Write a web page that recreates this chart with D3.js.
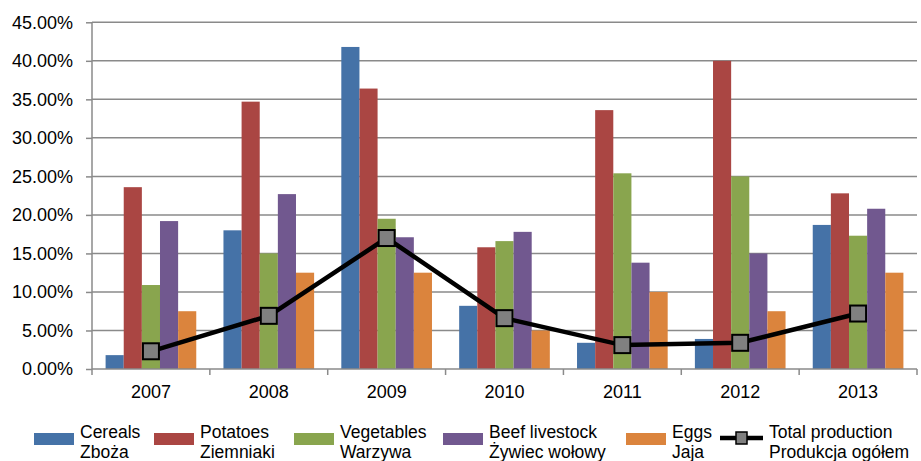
<!DOCTYPE html>
<html>
<head>
<meta charset="utf-8">
<script src="https://cdn.jsdelivr.net/npm/d3@7"></script>
<style>
  html, body { margin: 0; padding: 0; background: #fff; }
  svg { display: block; font-family: "Liberation Sans", Arial, sans-serif; }
</style>
</head>
<body>
<svg id="chart" width="921" height="461"></svg>
<script>
const years = ["2007", "2008", "2009", "2010", "2011", "2012", "2013"];
const seriesNames = [
  ["Cereals", "Zboża"],
  ["Potatoes", "Ziemniaki"],
  ["Vegetables", "Warzywa"],
  ["Beef livestock", "Żywiec wołowy"],
  ["Eggs", "Jaja"]
];
const totalName = ["Total production", "Produkcja ogółem"];
const cereals    = [1.8, 18.0, 41.8, 8.2, 3.4, 3.9, 18.7];
const potatoes   = [23.6, 34.7, 36.4, 15.8, 33.6, 40.0, 22.8];
const vegetables = [10.9, 15.0, 19.5, 16.6, 25.4, 25.0, 17.3];
const beef       = [19.2, 22.7, 17.1, 17.8, 13.8, 15.0, 20.8];
const eggs       = [7.5, 12.5, 12.5, 5.0, 10.0, 7.5, 12.5];
const total      = [2.3, 6.9, 17.0, 6.6, 3.1, 3.4, 7.2];
const yTicks     = [0, 5, 10, 15, 20, 25, 30, 35, 40, 45];

const colors = ["#4572A7", "#AA4643", "#89A54E", "#71588F", "#DB843D"];
const seriesValues = [cereals, potatoes, vegetables, beef, eggs];

const svg = d3.select("#chart");
const mLeft = 92, mRight = 917, mTop = 22.3, mBottom = 369;

const x0 = d3.scaleBand().domain(years).range([mLeft, mRight]).paddingInner(0).paddingOuter(0);
const x1 = d3.scaleBand().domain(d3.range(5)).range([0, x0.bandwidth()]).paddingInner(0).paddingOuter(0.75);
const y = d3.scaleLinear().domain([0, 45]).range([mBottom, mTop]);

// gridlines
svg.append("g").selectAll("line").data(yTicks.filter(d => d > 0)).join("line")
  .attr("x1", mLeft).attr("x2", mRight)
  .attr("y1", d => y(d)).attr("y2", d => y(d))
  .attr("stroke", "#8a8a8a").attr("stroke-width", 1.5);

// y axis
const yAxis = d3.axisLeft(y).tickValues(yTicks).tickSize(6).tickPadding(13)
  .tickFormat(d => d.toFixed(2) + "%");
const gy = svg.append("g").attr("transform", `translate(${mLeft},0)`).call(yAxis);
gy.select(".domain").attr("stroke", "#8a8a8a").attr("stroke-width", 1.5).attr("d", `M0,${y(45)}V${mBottom}`);
gy.selectAll(".tick line").attr("stroke", "#8a8a8a").attr("stroke-width", 1.5);
gy.selectAll(".tick text").attr("font-size", 18).attr("fill", "#000")
  .attr("font-family", '"Liberation Sans", Arial, sans-serif');

// bars
const groups = svg.append("g").selectAll("g").data(years).join("g")
  .attr("transform", d => `translate(${x0(d)},0)`);
groups.selectAll("rect").data((d, i) => seriesValues.map((s, k) => ({k, v: s[i]}))).join("rect")
  .attr("x", d => x1(d.k)).attr("width", x1.bandwidth())
  .attr("y", d => y(d.v)).attr("height", d => mBottom - y(d.v))
  .attr("fill", d => colors[d.k]);

// x axis
const xAxis = d3.axisBottom(x0).tickSize(0).tickPadding(16);
const gx = svg.append("g").attr("transform", `translate(0,${mBottom})`).call(xAxis);
gx.select(".domain").attr("stroke", "#8a8a8a").attr("stroke-width", 1.5).attr("d", `M${mLeft},0H${mRight}`);
gx.selectAll(".tick text").attr("font-size", 18).attr("fill", "#000")
  .attr("font-family", '"Liberation Sans", Arial, sans-serif');
const bounds = years.map(d => x0(d)).concat([mRight]);
gx.append("g").selectAll("line").data(bounds).join("line")
  .attr("x1", d => d).attr("x2", d => d).attr("y1", 0).attr("y2", 6)
  .attr("stroke", "#8a8a8a").attr("stroke-width", 1.5);

// total line
const cx = d => x0(d) + x0.bandwidth() / 2;
const line = d3.line().x((d, i) => cx(years[i])).y(d => y(d));
svg.append("path").datum(total).attr("d", line)
  .attr("fill", "none").attr("stroke", "#000").attr("stroke-width", 4.5);
svg.append("g").selectAll("rect").data(total).join("rect")
  .attr("x", (d, i) => cx(years[i]) - 8).attr("y", d => y(d) - 8)
  .attr("width", 16).attr("height", 16)
  .attr("fill", "#808080").attr("stroke", "#000").attr("stroke-width", 2);

// legend
const legSwatchX = [34, 154, 294, 443, 626];
const lg = svg.append("g");
seriesNames.forEach((nm, k) => {
  lg.append("rect").attr("x", legSwatchX[k]).attr("y", 433).attr("width", 40).attr("height", 12)
    .attr("fill", colors[k]);
  const t = lg.append("text").attr("font-size", 17.5).attr("fill", "#000");
  t.append("tspan").attr("x", legSwatchX[k] + 46).attr("y", 437.5).text(nm[0]);
  t.append("tspan").attr("x", legSwatchX[k] + 46).attr("y", 457.5).text(nm[1]);
});
lg.append("line").attr("x1", 720).attr("x2", 763).attr("y1", 438).attr("y2", 438)
  .attr("stroke", "#000").attr("stroke-width", 4.5);
lg.append("rect").attr("x", 736).attr("y", 432).attr("width", 11).attr("height", 12)
  .attr("fill", "#808080").attr("stroke", "#000").attr("stroke-width", 1.5);
const tt = lg.append("text").attr("font-size", 17.5).attr("fill", "#000");
tt.append("tspan").attr("x", 769).attr("y", 437.5).text(totalName[0]);
tt.append("tspan").attr("x", 769).attr("y", 457.5).text(totalName[1]);
</script>
</body>
</html>
